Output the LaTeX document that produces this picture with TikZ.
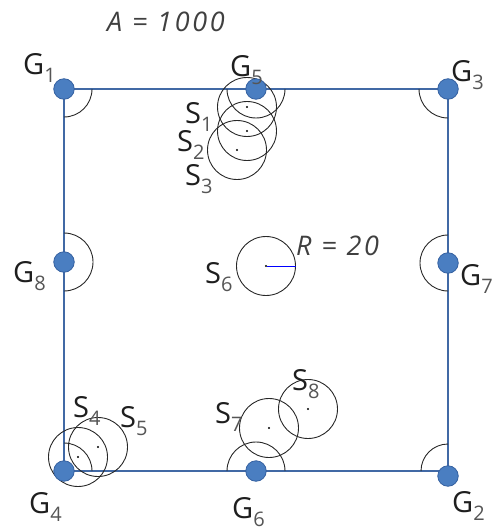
\documentclass[tikz,border=0pt]{standalone}
\usepackage{fontspec}
\setmainfont{Open Sans}
\definecolor{frameblue}{RGB}{65,105,165}
\definecolor{dotblue}{RGB}{74,126,193}
\definecolor{dotedge}{RGB}{52,96,160}
\definecolor{txt}{RGB}{30,30,30}
\definecolor{subgray}{RGB}{85,85,85}
\definecolor{arcgray}{RGB}{40,40,40}
\newcommand\lab[2]{#1\raisebox{-8pt}{\fontsize{20}{20}\selectfont\color{subgray}#2}}
\tikzset{
  gpt/.style={circle,fill=dotblue,draw=dotedge,line width=0.8pt,minimum size=20.5pt,inner sep=0pt},
  spt/.style={circle,fill=black,minimum size=2.2pt,inner sep=0pt},
  lbl/.style={anchor=base west,inner sep=0pt,text=txt,font=\fontsize{29}{29}\selectfont},
  ilbl/.style={anchor=base west,inner sep=0pt,text=txt!85,font=\fontsize{27}{27}\selectfont\itshape\addfontfeature{LetterSpace=10}},
  frame/.style={draw=frameblue,line width=2.6pt},
  ang/.style={draw=arcgray,line width=0.9pt},
  scirc/.style={draw=arcgray,line width=0.9pt},
}
\begin{document}
\begin{tikzpicture}[x=1pt,y=-1pt]
\useasboundingbox (0,0) rectangle (501,532);
% corner / mid coordinates of frame
\coordinate (c1) at (64,89);
\coordinate (c5) at (256,89);
\coordinate (c3) at (448,89);
\coordinate (c7) at (448,263);
\coordinate (c2) at (448,471);
\coordinate (c6) at (256,471);
\coordinate (c4) at (64,471);
\coordinate (c8) at (64,262);
\draw[frame] (c1) -- (c5) -- (c3) -- (c7) -- (c2) -- (c6) -- (c4) -- (c8) -- cycle;
% angle arcs
\draw[ang] (c1) ++(28pt,0) arc[start angle=0,end angle=-90,radius=28pt];
\draw[ang] (c3) ++(-29pt,0) arc[start angle=180,end angle=270,radius=29pt];
\draw[ang] (c2) ++(0,-27) arc[start angle=90,end angle=180,radius=27pt];
\draw[ang] (c4) ++(28pt,0) arc[start angle=0,end angle=90,radius=28pt];
\draw[ang] (c8) ++(0,-29) arc[start angle=90,end angle=-90,radius=29pt];
\draw[ang] (c7) ++(0,-28) arc[start angle=90,end angle=270,radius=28pt];
\draw[ang] (c5) ++(-29pt,0) arc[start angle=180,end angle=360,radius=29pt];
\draw[ang] (c6) ++(29pt,0) arc[start angle=0,end angle=180,radius=29pt];
% S circles
\node[spt] (s1) at (247,107) {};
\node[spt] (s2) at (247,131) {};
\node[spt] (s3) at (237,150) {};
\node[spt] (s4) at (78,457) {};
\node[spt] (s5) at (98,447) {};
\node[spt] (s6) at (266,266) {};
\node[spt] (s7) at (269,428) {};
\node[spt] (s8) at (308,409) {};
\foreach \s in {s1,s2,s3,s4,s5,s6,s7,s8}
  \draw[scirc] (\s) circle[radius=29.5pt];
\coordinate (r6) at (295.5,266);
\draw[blue,line width=1pt] (s6) -- (r6);
% G points
\node[gpt] (G1) at (c1) {};
\node[gpt] (G5) at (c5) {};
\node[gpt] (G3) at (c3) {};
\node[gpt] (G7) at (c7) {};
\node[gpt] (G2) at (448,476) {};
\node[gpt] (G6) at (c6) {};
\node[gpt] (G4) at (c4) {};
\node[gpt] (G8) at (c8) {};
% labels
\node[ilbl] (lA) at (107,32) {A = 1000};
\node[ilbl] (lR) at (296,255) {R = 20};
\node[lbl] (lG1) at (23,75) {\lab{G}{1}};
\node[lbl] (lG5) at (230,77) {\lab{G}{5}};
\node[lbl] (lG3) at (451,82) {\lab{G}{3}};
\node[lbl] (lG8) at (13,282) {\lab{G}{8}};
\node[lbl] (lG7) at (460,285) {\lab{G}{7}};
\node[lbl] (lG4) at (29,513) {\lab{G}{4}};
\node[lbl] (lG6) at (232,518) {\lab{G}{6}};
\node[lbl] (lG2) at (452,512) {\lab{G}{2}};
\node[lbl] (lS1) at (185,123) {\lab{S}{1}};
\node[lbl] (lS2) at (177,151) {\lab{S}{2}};
\node[lbl] (lS3) at (185,185) {\lab{S}{3}};
\node[lbl] (lS4) at (73,417) {\lab{S}{4}};
\node[lbl] (lS5) at (120,427) {\lab{S}{5}};
\node[lbl] (lS6) at (205,283) {\lab{S}{6}};
\node[lbl] (lS7) at (215,423) {\lab{S}{7}};
\node[lbl] (lS8) at (292,390) {\lab{S}{8}};
\end{tikzpicture}
\end{document}
